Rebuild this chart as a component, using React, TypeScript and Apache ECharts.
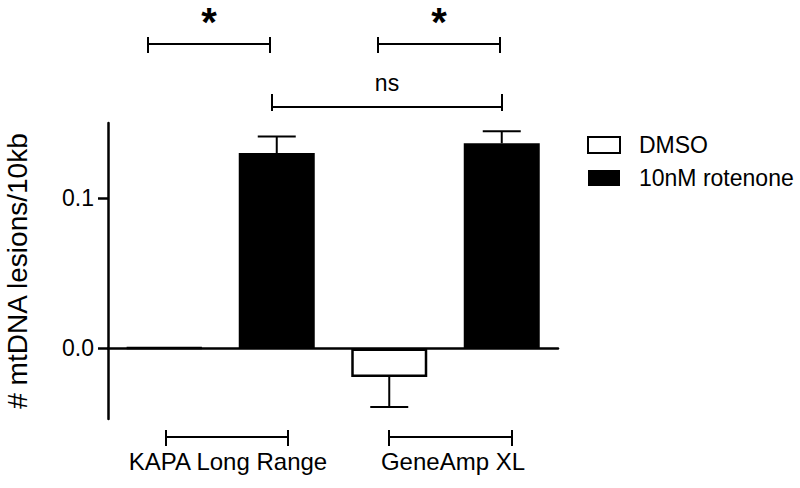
import React, { useEffect, useRef } from "react";
import * as echarts from "echarts";

const groups = ["KAPA Long Range", "GeneAmp XL"];
const seriesNames = ["DMSO", "10nM rotenone"];
const dmsoValues = [0.0005, -0.019];
const dmsoErrors = [0, 0.02];
const rotenoneValues = [0.13, 0.1365];
const rotenoneErrors = [0.011, 0.008];
const yTicks = [0, 0.1];
const starLabel = "*";
const nsLabel = "ns";

const FONT = "'Liberation Sans', Arial, Helvetica, sans-serif";

export default function App() {
  const ref = useRef<HTMLDivElement>(null);
  useEffect(() => {
    if (!ref.current) return;
    const chart = echarts.init(ref.current, null, { renderer: "svg" });

    const slots: string[] = [];
    groups.forEach((g) => {
      slots.push(g + " " + seriesNames[0]);
      slots.push(g + " " + seriesNames[1]);
    });
    const dmsoData: any[] = [];
    const rotData: any[] = [];
    const errData: any[] = [];
    groups.forEach((_, i) => {
      dmsoData.push(dmsoValues[i], "-");
      rotData.push("-", rotenoneValues[i]);
      errData.push([2 * i, dmsoValues[i], dmsoErrors[i]]);
      errData.push([2 * i + 1, rotenoneValues[i], rotenoneErrors[i]]);
    });

    const line = (x1: number, y1: number, x2: number, y2: number) => ({
      type: "line",
      shape: { x1, y1, x2, y2 },
      style: { stroke: "#000", lineWidth: 2 },
    });
    const bracket = (x1: number, x2: number, y: number, t1: number, t2: number) => [
      line(x1, y, x2, y),
      line(x1, t1, x1, t2),
      line(x2, t1, x2, t2),
    ];

    chart.setOption({
      animation: false,
      backgroundColor: "#fff",
      textStyle: { fontFamily: FONT, color: "#000" },
      grid: { left: 108, right: 242, top: 123, bottom: 69, outerBoundsMode: "none", containLabel: false },
      legend: {
        data: seriesNames,
        orient: "vertical",
        left: 587,
        top: 133,
        padding: 0,
        itemWidth: 32,
        itemHeight: 16,
        itemGap: 9,
        icon: "rect",
        textStyle: { fontSize: 23, color: "#000", fontFamily: FONT, lineHeight: 24, padding: [0, 0, 0, 14] },
      },
      xAxis: [
        {
          type: "category",
          data: slots,
          axisLine: { onZero: true, lineStyle: { color: "#000", width: 2.5 } },
          axisTick: { show: false },
          axisLabel: { show: false },
          splitLine: { show: false },
        },
        {
          type: "category",
          data: groups,
          position: "bottom",
          axisLine: { show: false, onZero: false },
          axisTick: { show: false },
          axisLabel: { interval: 0, fontSize: 24, color: "#000", fontFamily: FONT, margin: 30, padding: [0, 0, 0, 15] },
          splitLine: { show: false },
        },
      ],
      yAxis: {
        type: "value",
        min: -0.047,
        max: 0.15,
        name: "# mtDNA lesions/10kb",
        nameLocation: "middle",
        nameRotate: 90,
        nameGap: 77,
        nameTextStyle: { fontSize: 28, color: "#000", fontFamily: FONT },
        axisLine: { show: true, lineStyle: { color: "#000", width: 2.5 } },
        axisTick: { show: true, length: 10, lineStyle: { color: "#000", width: 2.5 }, customValues: yTicks },
        axisLabel: {
          fontSize: 23,
          color: "#000",
          fontFamily: FONT,
          margin: 14,
          customValues: yTicks,
          formatter: (v: number) => v.toFixed(1),
        },
        splitLine: { show: false },
      },
      series: [
        {
          name: seriesNames[0],
          type: "bar",
          data: dmsoData,
          barWidth: 76,
          barGap: "-100%",
          itemStyle: { color: "#fff", borderColor: "#000", borderWidth: 2.5 },
          z: 2,
        },
        {
          name: seriesNames[1],
          type: "bar",
          data: rotData,
          barWidth: 76,
          barGap: "-100%",
          itemStyle: { color: "#000", borderColor: "#000", borderWidth: 0 },
          z: 2,
        },
        {
          name: "error",
          type: "custom",
          data: errData,
          encode: { x: 0, y: 1 },
          z: 3,
          renderItem: (params: any, api: any) => {
            const x = api.value(0);
            const v = api.value(1);
            const e = api.value(2);
            if (!e) return { type: "group", children: [] };
            const sign = v < 0 ? -1 : 1;
            const p0 = api.coord([x, v]);
            const p1 = api.coord([x, v + sign * e]);
            const half = 19;
            return {
              type: "group",
              children: [
                { type: "line", shape: { x1: p0[0], y1: p0[1], x2: p1[0], y2: p1[1] }, style: { stroke: "#000", lineWidth: 2 } },
                { type: "line", shape: { x1: p1[0] - half, y1: p1[1], x2: p1[0] + half, y2: p1[1] }, style: { stroke: "#000", lineWidth: 2 } },
              ],
            };
          },
        },
      ],
      graphic: [
        ...bracket(148, 270, 44, 37, 53),
        ...bracket(378, 500, 44, 37, 53),
        ...bracket(272, 502, 107, 94, 111),
        ...bracket(166, 288, 437, 430, 446),
        ...bracket(389, 512, 437, 430, 446),
        {
          type: "text",
          x: 209,
          y: 2,
          style: { text: starLabel, fill: "#000", font: "bold 40px " + FONT, lineHeight: 40, textAlign: "center", textVerticalAlign: "top" },
        },
        {
          type: "text",
          x: 439,
          y: 2,
          style: { text: starLabel, fill: "#000", font: "bold 40px " + FONT, lineHeight: 40, textAlign: "center", textVerticalAlign: "top" },
        },
        {
          type: "text",
          x: 387,
          y: 83,
          style: { text: nsLabel, fill: "#000", font: "23px " + FONT, textAlign: "center", textVerticalAlign: "middle" },
        },
      ],
    });
    return () => chart.dispose();
  }, []);
  return <div ref={ref} style={{ width: 800, height: 488, position: "absolute", left: 0, top: 0 }} />;
}
